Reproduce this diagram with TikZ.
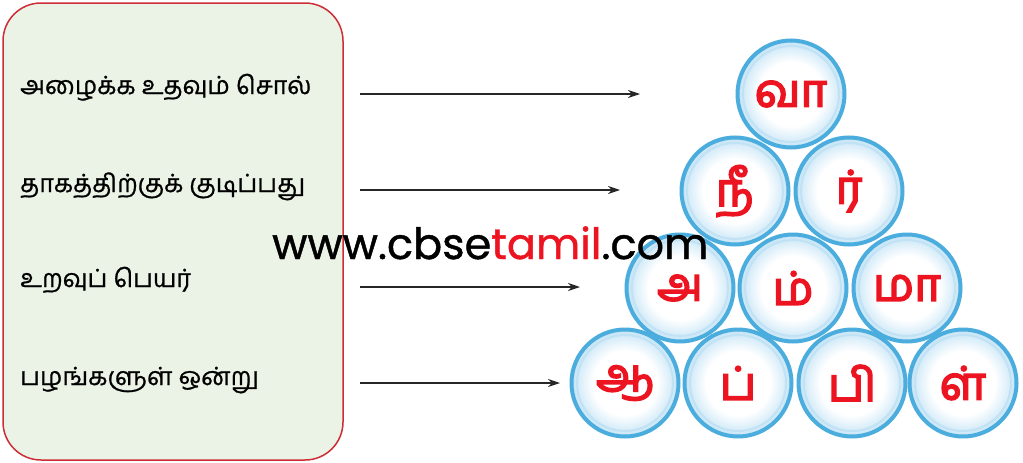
\documentclass[tikz,border=0pt]{standalone}
\usepackage{fontspec}
\usepackage{tikz}
\usetikzlibrary{arrows.meta, positioning}
\newfontfamily\tamilfont[Script=Tamil, FakeBold=0.8]{Hind Madurai}
\newfontfamily\tamilbold[Script=Tamil, FakeBold=3.5]{Hind Madurai}
\newfontfamily\webfont[FakeBold=1]{Poppins}
\usepackage{xcolor}
\definecolor{boxgreen}{RGB}{234,243,229}
\definecolor{boxred}{RGB}{205,45,55}
\definecolor{bubbleblue}{RGB}{75,172,222}
\definecolor{bubblelight}{RGB}{196,228,246}
\definecolor{letterred}{RGB}{236,20,32}
\pgfdeclareradialshading{bubbleshade}{\pgfpoint{0bp}{0bp}}{color(0bp)=(white); color(15bp)=(white); color(25bp)=(bubblelight); color(50bp)=(bubblelight)}
\tikzset{
	clue/.style={anchor=base west, inner sep=0pt, font=\tamilfont\fontsize{25}{30}\selectfont},
	bubble/.style={circle, minimum size=107pt, inner sep=0pt, draw=bubbleblue, line width=4pt, shading=bubbleshade, text=letterred, font=\tamilbold\fontsize{46}{50}\selectfont,
		path picture={\draw[bubbleblue!35, line width=2pt] (path picture bounding box.center) circle (48pt);}},
	pointer/.style={-{Stealth[length=12pt,width=8pt]}, line width=1.3pt, draw=black!85}
}

\begin{document}
\begin{tikzpicture}[x=1pt,y=-1pt]
				\useasboundingbox (0,0) rectangle (1023,463);
				\filldraw[fill=boxgreen, draw=boxred, line width=1.5pt, rounded corners=38pt] (3,3) rectangle (343,460);
				\node[clue] (c1) at (20,94) {அழைக்க உதவும் சொல்};
				\node[clue] (c2) at (20,192) {தாகத்திற்குக் குடிப்பது};
				\node[clue] (c3) at (20,287) {உறவுப் பெயர்};
				\node[clue] (c4) at (20,385) {பழங்களுள் ஒன்று};
				\coordinate (s1) at (360,94);
				\coordinate (e1) at (640,94);
				\coordinate (s2) at (360,190);
				\coordinate (e2) at (620,190);
				\coordinate (s3) at (360,287);
				\coordinate (e3) at (580,287);
				\coordinate (s4) at (360,383);
				\coordinate (e4) at (560,383);
				\draw[pointer] (s1) -- (e1);
				\draw[pointer] (s2) -- (e2);
				\draw[pointer] (s3) -- (e3);
				\draw[pointer] (s4) -- (e4);
				\node[bubble] (va) at (791,94) {வா};
				\node[bubble] (nii) at (735,191) {நீ};
				\node[bubble] (r) at (849,191) {ர்};
				\node[bubble] (a) at (680,288) {அ};
				\node[bubble] (m) at (793,288) {ம்};
				\node[bubble] (maa) at (907,288) {மா};
				\node[bubble] (aa) at (625,383) {ஆ};
				\node[bubble] (p) at (738,383) {ப்};
				\node[bubble] (pi) at (852,383) {பி};
				\node[bubble] (l) at (963,383) {ள்};
				\node[anchor=base west, inner sep=0pt, font=\webfont\fontsize{43}{47}\selectfont] (web) at (272,259) {www.cbse\textcolor{letterred}{tamil}.com};
\end{tikzpicture}
\end{document}
